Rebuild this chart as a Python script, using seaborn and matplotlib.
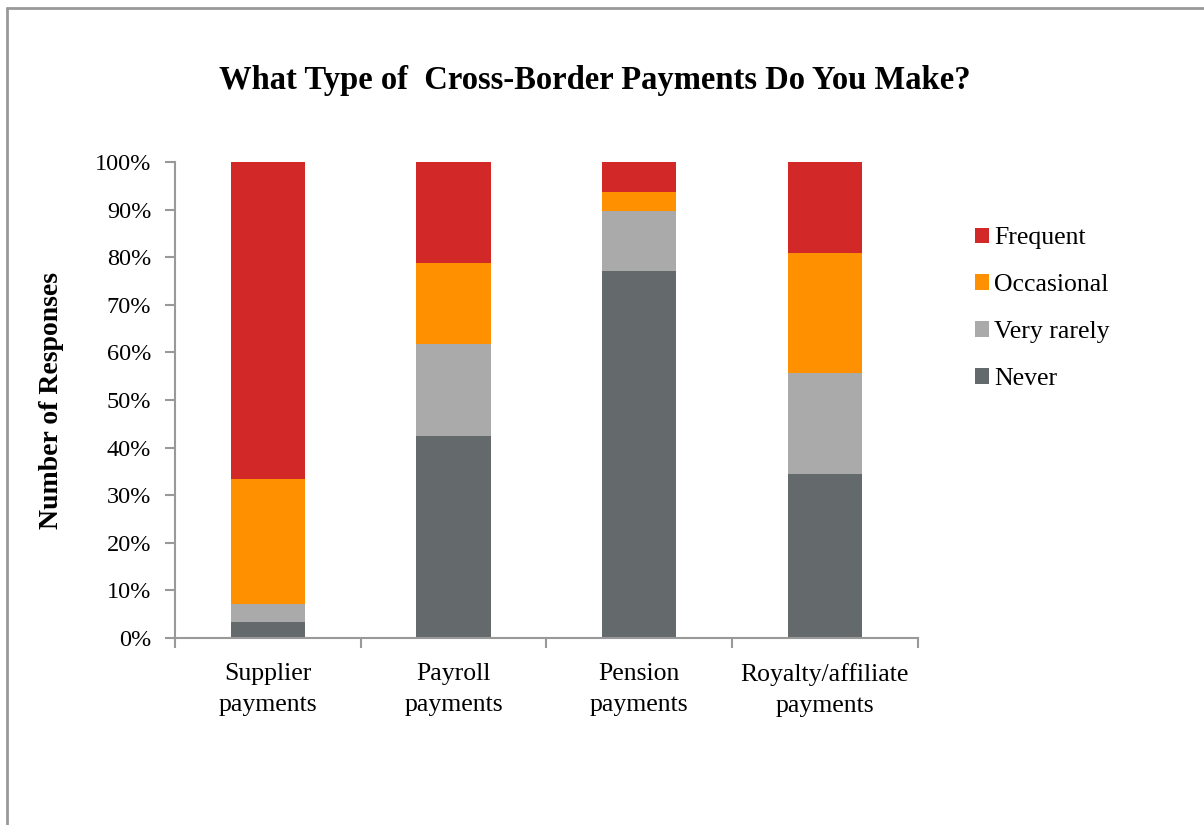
import matplotlib
matplotlib.use("Agg")
import matplotlib.pyplot as plt
from matplotlib.lines import Line2D
from matplotlib.patches import Patch
import seaborn as sns
import pandas as pd
import numpy as np

# data (percent of responses)
categories = ["Supplier\npayments", "Payroll\npayments", "Pension\npayments", "Royalty/affiliate\npayments"]
never = [3.4, 42.5, 77.1, 34.5]
very_rarely = [3.6, 19.3, 12.6, 21.2]
occasional = [26.4, 17.0, 4.1, 25.2]
frequent = [66.6, 21.2, 6.2, 19.1]

series_names = ["Never", "Very rarely", "Occasional", "Frequent"]
series_colors = ["#646A6C", "#AAAAAA", "#FF9100", "#D22828"]

sns.set_style("white")
plt.rcParams["font.family"] = ["Liberation Serif", "DejaVu Serif"]
plt.rcParams["text.color"] = "black"
plt.rcParams["axes.labelcolor"] = "black"
plt.rcParams["xtick.color"] = "black"
plt.rcParams["ytick.color"] = "black"

df = pd.DataFrame({"category": categories, "Never": never, "Very rarely": very_rarely,
                   "Occasional": occasional, "Frequent": frequent})

fig = plt.figure(figsize=(12.04, 8.25), dpi=100)
ax = fig.add_axes([0.1453, 0.227, 0.617, 0.5763])

# stacked bars: draw cumulative totals from the top series down
cum = df[series_names].cumsum(axis=1)
for name, color in reversed(list(zip(series_names, series_colors))):
    sns.barplot(x=df["category"], y=cum[name], color=color, width=0.4,
                saturation=1, ax=ax, linewidth=0)

ax.set_xlim(-0.5, 3.5)
ax.set_ylim(0, 100)
ax.set_yticks(np.arange(0, 101, 10))
ax.set_yticklabels([f"{v}%" for v in range(0, 101, 10)], fontsize=17.5)
ax.set_xticks(range(4))
ax.set_xticklabels(categories, fontsize=18.5, linespacing=1.55)
ax.set_xticks(np.arange(-0.5, 3.6, 1), minor=True)
ax.tick_params(axis="x", which="major", length=0, pad=18, bottom=True)
ax.tick_params(axis="x", which="minor", length=7, width=1.5, color="#999999",
               direction="out", bottom=True)
ax.tick_params(axis="y", length=7, width=1.5, color="#999999", direction="out",
               pad=10, left=True, labelcolor="black")
ax.set_xlabel("")
ax.set_ylabel("Number of Responses", fontsize=20, fontweight="bold", labelpad=22)

for side in ["top", "right"]:
    ax.spines[side].set_visible(False)
for side in ["left", "bottom"]:
    ax.spines[side].set_color("#999999")
    ax.spines[side].set_linewidth(1.5)

fig.text(0.494, 0.902, "What Type of  Cross-Border Payments Do You Make?",
         ha="center", va="center", fontsize=23.5, fontweight="bold")

handles = [Patch(facecolor=c, edgecolor="none") for c in reversed(series_colors)]
fig.legend(handles, list(reversed(series_names)), loc="upper left",
           bbox_to_anchor=(0.799, 0.740), frameon=False, fontsize=18.5,
           handlelength=0.55, handleheight=0.55, handletextpad=0.2,
           labelspacing=0.97, borderpad=0)

# slide border (left and top edges)
fig.add_artist(Line2D([7 / 1204, 7 / 1204], [0, 1 - 8 / 825], transform=fig.transFigure,
                      color="#999999", lw=2))
fig.add_artist(Line2D([7 / 1204, 1], [1 - 8 / 825, 1 - 8 / 825], transform=fig.transFigure,
                      color="#999999", lw=2))

fig.savefig("out.png", dpi=100)
